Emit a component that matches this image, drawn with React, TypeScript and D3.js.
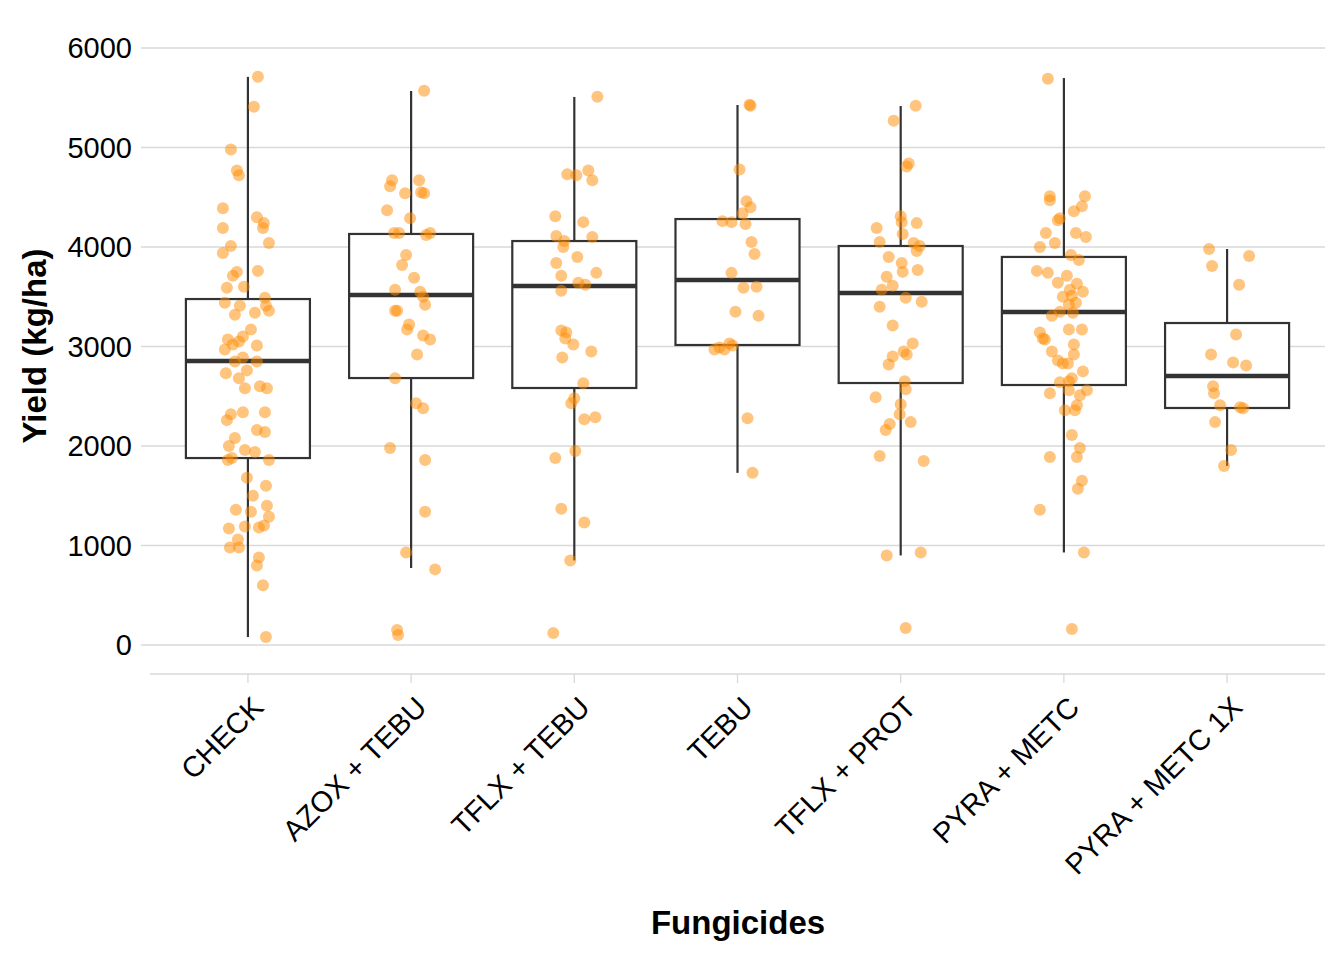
import { useEffect, useRef } from "react";
import * as d3 from "d3";

const categories = ["CHECK", "AZOX + TEBU", "TFLX + TEBU", "TEBU", "TFLX + PROT", "PYRA + METC", "PYRA + METC 1X"];

// box stats: [whiskerLow, q1, median, q3, whiskerHigh]
const boxStats: number[][] = [
  [80, 1879, 2854, 3477, 5710],
  [774, 2683, 3518, 4131, 5568],
  [850, 2583, 3608, 4060, 5508],
  [1730, 3015, 3668, 4281, 5427],
  [900, 2633, 3538, 4010, 5417],
  [930, 2613, 3347, 3900, 5698],
  [1800, 2382, 2704, 3236, 3980],
];

// jittered points: [pixel offset from category centre, yield]
const checkPts = [[10,5710],[6,5410],[-17,4980],[-11,4770],[-9,4720],[-25,4390],[9,4300],[16,4240],[15,4190],[-25,4190],[21,4040],[-17,4010],[-25,3940],[10,3760],[-11,3750],[-15,3710],[-21,3590],[-4,3600],[17,3490],[-23,3440],[18,3410],[-8,3410],[21,3360],[7,3340],[-13,3320],[3,3170],[-20,3070],[-5,3100],[-15,3020],[-9,3050],[9,3010],[-23,2970],[-5,2890],[-13,2850],[9,2850],[-1,2760],[-9,2680],[-22,2730],[12,2600],[19,2580],[-3,2580],[-17,2320],[17,2340],[-5,2340],[-21,2260],[9,2160],[17,2140],[-13,2080],[-3,1960],[-19,2000],[7,1940],[-16,1880],[-20,1860],[21,1860],[-1,1680],[18,1600],[5,1500],[19,1400],[-12,1360],[3,1340],[21,1290],[16,1200],[-3,1190],[-19,1170],[11,1180],[-10,1060],[-18,980],[-9,980],[11,880],[9,800],[15,600],[18,80]];
const azoxPts = [[13,5570],[8,4670],[-19,4670],[-21,4610],[10,4550],[-6,4540],[13,4540],[-24,4370],[-1,4290],[-17,4140],[19,4140],[-12,4140],[15,4120],[-5,3920],[-9,3820],[3,3690],[-16,3570],[9,3550],[12,3500],[14,3420],[-14,3360],[-16,3360],[-2,3220],[-4,3170],[12,3110],[19,3070],[6,2920],[-16,2680],[5,2430],[12,2380],[-21,1980],[14,1860],[14,1340],[-5,930],[24,760],[-14,150],[-13,100]];
const tflxTebuPts = [[23,5510],[14,4770],[-7,4730],[2,4720],[18,4670],[-19,4310],[9,4250],[-18,4110],[18,4100],[-10,4060],[-11,4000],[3,3900],[-18,3840],[22,3740],[-13,3710],[4,3640],[11,3620],[-13,3560],[-13,3160],[-8,3140],[-9,3080],[-1,3020],[17,2950],[-12,2890],[9,2630],[0,2480],[-3,2430],[10,2270],[21,2290],[1,1950],[-19,1880],[-13,1370],[10,1230],[-4,850],[-21,120]];
const tebuPts = [[12,5430],[13,5420],[2,4780],[9,4460],[13,4400],[5,4340],[-15,4260],[-6,4250],[8,4230],[14,4050],[17,3930],[-6,3740],[6,3590],[19,3600],[21,3310],[-2,3350],[-8,3030],[-5,3010],[-18,2990],[-23,2970],[-13,2970],[10,2280],[15,1730]];
const tflxProtPts = [[15,5420],[-7,5270],[8,4840],[6,4810],[0,4310],[1,4250],[16,4240],[-24,4190],[2,4130],[-21,4050],[13,4040],[19,4010],[16,3960],[-12,3900],[1,3840],[2,3750],[17,3770],[-14,3700],[-8,3610],[-19,3570],[-21,3400],[21,3450],[5,3490],[-8,3210],[12,3030],[3,2950],[6,2920],[-8,2900],[-12,2820],[4,2650],[5,2570],[-25,2490],[0,2420],[-1,2320],[10,2240],[-11,2220],[-15,2160],[23,1850],[-21,1900],[-14,900],[20,930],[5,170]];
const pyraPts = [[-16,5690],[-14,4510],[21,4510],[-14,4470],[18,4410],[10,4360],[-4,4290],[-6,4270],[-18,4140],[12,4140],[22,4100],[-9,4040],[-24,4000],[7,3920],[15,3870],[-27,3760],[-16,3740],[3,3710],[-6,3640],[13,3630],[6,3570],[19,3550],[-1,3500],[8,3510],[5,3420],[12,3440],[-4,3350],[9,3340],[-12,3310],[18,3170],[5,3170],[-24,3140],[-21,3080],[-19,3070],[10,3020],[-12,2950],[10,2920],[-6,2860],[-1,2830],[4,2830],[19,2750],[8,2680],[-4,2640],[5,2650],[5,2560],[23,2560],[-14,2530],[16,2510],[13,2410],[1,2360],[11,2360],[8,2110],[16,1980],[-14,1890],[13,1890],[18,1650],[14,1570],[-24,1360],[20,930],[8,160]];
const pyra1xPts = [[-18,3980],[22,3910],[-15,3810],[12,3620],[9,3120],[-16,2920],[6,2840],[19,2810],[-14,2600],[-13,2530],[-7,2410],[13,2390],[16,2380],[-12,2240],[4,1960],[-3,1800]];
const points = [checkPts, azoxPts, tflxTebuPts, tebuPts, tflxProtPts, pyraPts, pyra1xPts];

const yTicks = [0, 1000, 2000, 3000, 4000, 5000, 6000];

export default function App() {
  const svgRef = useRef<SVGSVGElement>(null);
  const width = 1344;
  const height = 960;

  useEffect(() => {
    if (!svgRef.current) return;
    const svg = d3.select(svgRef.current);
    svg.selectAll("*").remove();
    const font = "Liberation Sans, Arial, sans-serif";

    const x = d3.scaleBand().domain(categories).range([150, 1325]).paddingInner(0).paddingOuter(0.1);
    const step = x.step();
    const cx = (c: string) => (x(c) as number) + x.bandwidth() / 2;
    const y = d3.scaleLinear().domain([0, 6000]).range([645, 48]);
    const boxW = step * 0.76;

    // grid
    svg.append("g").selectAll("line").data(yTicks).join("line")
      .attr("x1", 141).attr("x2", 1325)
      .attr("y1", (d) => y(d)).attr("y2", (d) => y(d))
      .attr("stroke", "#d9d9d9").attr("stroke-width", 1.3);

    svg.append("g").selectAll("text").data(yTicks).join("text")
      .attr("x", 132).attr("y", (d) => y(d)).attr("dy", "0.35em")
      .attr("text-anchor", "end").attr("font-family", font).attr("font-size", 29)
      .text((d) => d);

    // x axis
    svg.append("line").attr("x1", 150).attr("x2", 1325).attr("y1", 674).attr("y2", 674)
      .attr("stroke", "#d9d9d9").attr("stroke-width", 1.3);
    categories.forEach((c) => {
      svg.append("line").attr("x1", cx(c)).attr("x2", cx(c)).attr("y1", 674).attr("y2", 683)
        .attr("stroke", "#d9d9d9").attr("stroke-width", 1.3);
      svg.append("text")
        .attr("transform", `translate(${cx(c) + 10},${702}) rotate(-45)`)
        .attr("text-anchor", "end").attr("dy", "0.35em")
        .attr("font-family", font).attr("font-size", 29).text(c);
    });

    // boxes
    categories.forEach((c, i) => {
      const [lo, q1, med, q3, hi] = boxStats[i];
      const g = svg.append("g");
      const xc = cx(c);
      g.append("line").attr("x1", xc).attr("x2", xc).attr("y1", y(hi)).attr("y2", y(q3))
        .attr("stroke", "#333").attr("stroke-width", 2.2);
      g.append("line").attr("x1", xc).attr("x2", xc).attr("y1", y(q1)).attr("y2", y(lo))
        .attr("stroke", "#333").attr("stroke-width", 2.2);
      g.append("rect").attr("x", xc - boxW / 2).attr("width", boxW)
        .attr("y", y(q3)).attr("height", y(q1) - y(q3))
        .attr("fill", "white").attr("stroke", "#333").attr("stroke-width", 2.2);
      g.append("line").attr("x1", xc - boxW / 2).attr("x2", xc + boxW / 2)
        .attr("y1", y(med)).attr("y2", y(med)).attr("stroke", "#333").attr("stroke-width", 4.5);
    });

    // points
    categories.forEach((c, i) => {
      svg.append("g").selectAll("circle").data(points[i]).join("circle")
        .attr("cx", (d) => cx(c) + (d[0] / 163) * step)
        .attr("cy", (d) => y(d[1]))
        .attr("r", 6)
        .attr("fill", "#ff8c00").attr("fill-opacity", 0.5);
    });

    svg.append("text").attr("x", 738).attr("y", 934).attr("text-anchor", "middle")
      .attr("font-family", font).attr("font-size", 33).attr("font-weight", "bold").text("Fungicides");
    svg.append("text").attr("transform", "translate(46,346) rotate(-90)").attr("text-anchor", "middle")
      .attr("font-family", font).attr("font-size", 33).attr("font-weight", "bold").text("Yield (kg/ha)");
  }, []);

  return <svg ref={svgRef} width={width} height={height} style={{ display: "block", margin: -8 }} />;
}
